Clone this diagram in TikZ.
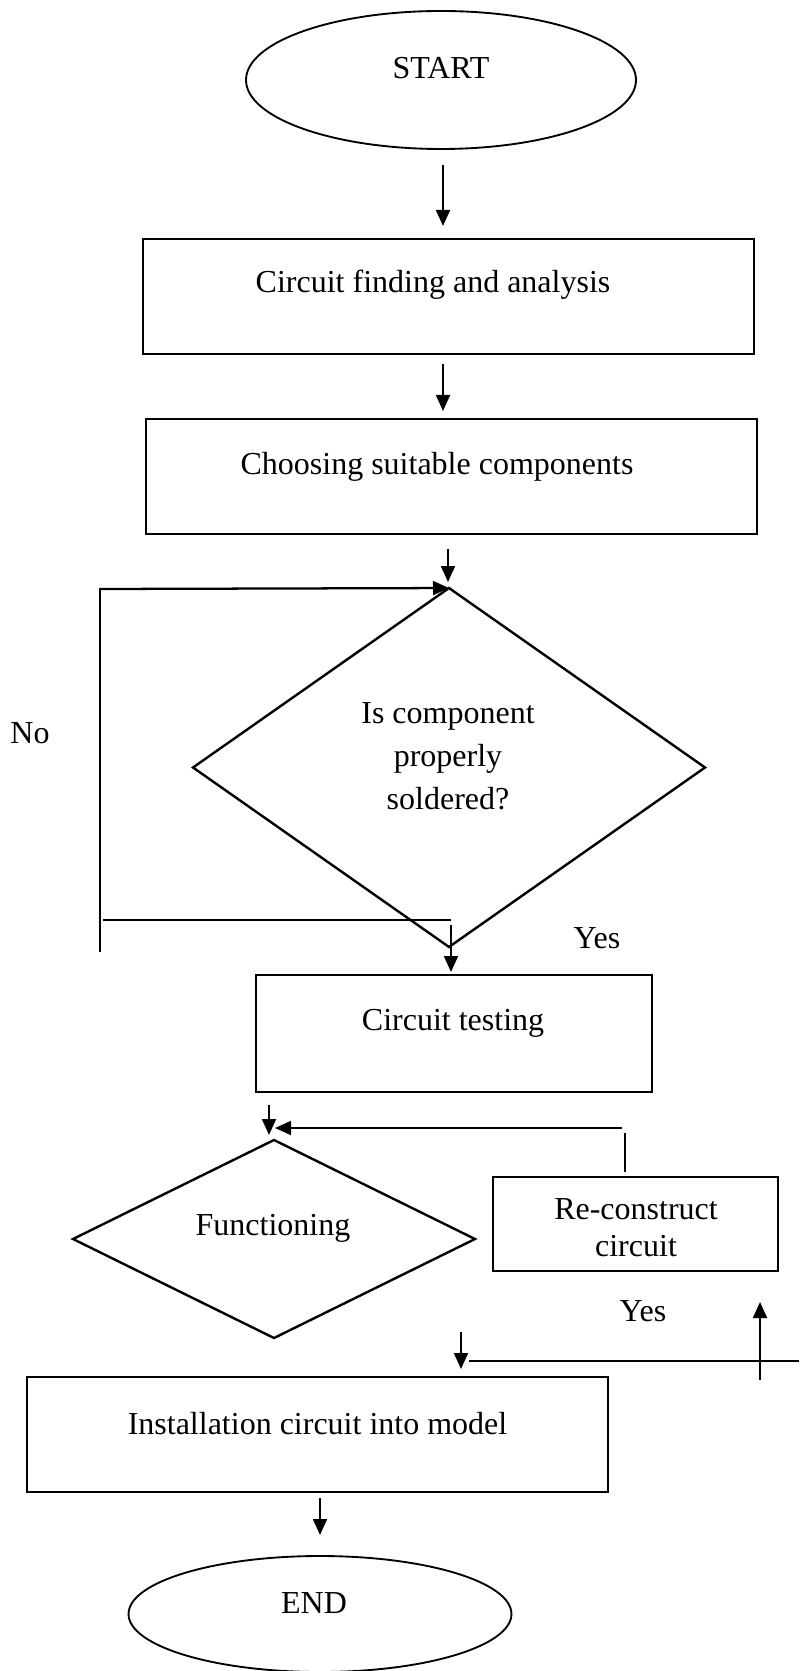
\documentclass[tikz,border=0pt]{standalone}
\usepackage{fontspec}
\setmainfont{Liberation Serif}
\usetikzlibrary{shapes.geometric,arrows.meta}

\begin{document}
\begin{tikzpicture}[x=0.375pt,y=-0.375pt,
  every node/.style={inner sep=0pt,outer sep=0pt},
  term/.style={draw,shape=ellipse,line width=0.7pt},
  box/.style={draw,shape=rectangle,line width=0.9pt},
  decision/.style={draw,shape=diamond,line width=0.9pt},
  lbl/.style={font=\fontsize{12}{14}\selectfont,align=center},
  arr/.style={-{Triangle[length=6pt,width=5.2pt]},line width=0.85pt},
  thin/.style={line width=0.45pt}]
  \useasboundingbox (0,0) rectangle (799,1671);
  \node[term,minimum width=146.25pt,minimum height=51.75pt] (start) at (441,80) {};
  \node[lbl] (starttxt) at (441,68) {START};
  \node[box,minimum width=229.1pt,minimum height=43.1pt] (find) at (448.5,296.5) {};
  \node[lbl] (findtxt) at (433,285) {Circuit finding and analysis};
  \node[box,minimum width=229.1pt,minimum height=43.1pt] (choose) at (451.5,476.5) {};
  \node[lbl] (choosetxt) at (437,467) {Choosing suitable components};
  \node[decision,minimum width=192pt,minimum height=134.6pt] (solder) at (449,767.5) {};
  \node[lbl,font=\fontsize{12}{16.1}\selectfont] (soldertxt) at (448,756) {Is component\\properly\\soldered?};
  \node[lbl] (no) at (30,733) {No};
  \node[lbl] (yes1) at (597,938) {Yes};
  \node[box,minimum width=148.5pt,minimum height=43.9pt] (test) at (454,1033.5) {};
  \node[lbl] (testtxt) at (453,1023) {Circuit testing};
  \node[decision,minimum width=150.75pt,minimum height=74.25pt] (func) at (274,1239) {};
  \node[lbl] (functxt) at (273,1228) {Functioning};
  \node[box,minimum width=106.9pt,minimum height=35.25pt] (rebuild) at (635.5,1224) {};
  \node[lbl,font=\fontsize{12}{13.9}\selectfont] (rebuildtxt) at (636,1227.5) {Re-construct\\circuit};
  \node[lbl] (yes2) at (643,1311) {Yes};
  \node[box,minimum width=217.9pt,minimum height=43.1pt] (install) at (317.5,1434.5) {};
  \node[lbl] (installtxt) at (317.5,1424) {Installation circuit into model};
  \node[term,minimum width=143.6pt,minimum height=43.5pt] (end) at (320,1614) {};
  \node[lbl] (endtxt) at (314,1603) {END};

  \coordinate (p1) at (443,165); \coordinate (q1) at (443,226);
  \coordinate (p2) at (443,364); \coordinate (q2) at (443,411);
  \coordinate (p3) at (448,549); \coordinate (q3) at (448,582);
  \coordinate (notop) at (99,589); \coordinate (noleft) at (100,952);
  \coordinate (nob1) at (103,920); \coordinate (nob2) at (451,920);
  \coordinate (p4) at (451,925); \coordinate (q4) at (451,972);
  \coordinate (p5) at (269,1105); \coordinate (q5) at (269,1135);
  \coordinate (back) at (622,1128); \coordinate (backtip) at (275,1128);
  \coordinate (reup1) at (625,1133); \coordinate (reup2) at (625,1172);
  \coordinate (up1) at (760,1380); \coordinate (up2) at (760,1302);
  \coordinate (yesl) at (469,1361); \coordinate (yesr) at (799,1361);
  \coordinate (p6) at (461,1332); \coordinate (q6) at (461,1369);
  \coordinate (p7) at (320,1498); \coordinate (q7) at (320,1535);

  \draw[arr] (p1) -- (q1);
  \draw[arr] (p2) -- (q2);
  \draw[arr] (p3) -- (q3);
  \draw[arr] (notop) -- (solder.north);
  \draw[thin] (notop) ++(1,0) -- (noleft);
  \draw[thin] (nob1) -- (nob2);
  \draw[arr] (p4) -- (q4);
  \draw[arr] (p5) -- (q5);
  \draw[arr] (back) -- (backtip);
  \draw[thin] (reup1) -- (reup2);
  \draw[arr] (up1) -- (up2);
  \draw[thin] (yesl) -- (yesr);
  \draw[arr] (p6) -- (q6);
  \draw[arr] (p7) -- (q7);
\end{tikzpicture}
\end{document}
